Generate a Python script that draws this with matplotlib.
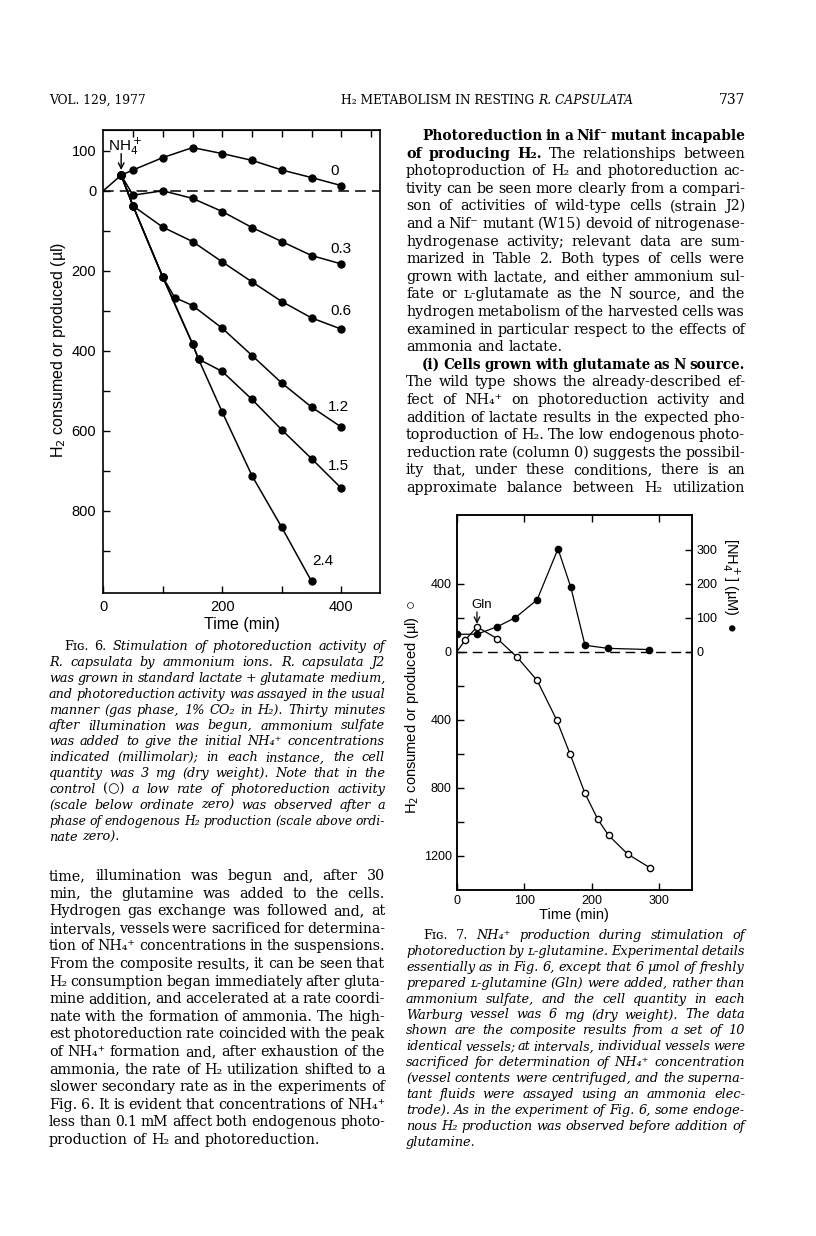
import matplotlib
matplotlib.use("Agg")
import matplotlib.pyplot as plt

# ---- Fig. 6 data (H2 produced > 0, consumed < 0), time in min ----
t_c0 = [0, 30, 50, 100, 150, 200, 250, 300, 350, 400]
h_c0 = [0, 39, 52, 83, 108, 93, 76, 52, 33, 13]
t_c03 = [30, 50, 100, 150, 200, 250, 300, 350, 400]
h_c03 = [39, -11, 0, -19, -52, -92, -127, -162, -183]
t_c06 = [30, 50, 100, 150, 200, 250, 300, 350, 400]
h_c06 = [39, -38, -91, -127, -178, -228, -277, -318, -346]
t_c12 = [30, 50, 100, 120, 150, 200, 250, 300, 350, 400]
h_c12 = [39, -38, -216, -267, -287, -344, -412, -481, -541, -591]
t_c15 = [30, 50, 100, 150, 160, 200, 250, 300, 350, 400]
h_c15 = [39, -38, -216, -383, -421, -452, -522, -598, -670, -744]
t_c24 = [30, 50, 100, 150, 160, 200, 250, 300, 350]
h_c24 = [39, -38, -216, -383, -421, -554, -713, -842, -977]
conc_labels = ["0", "0.3", "0.6", "1.2", "1.5", "2.4"]
label_pos6 = [(388, 50), (399, -146), (399, -300), (395, -541), (395, -688), (369, -927)]

# ---- Fig. 7 data ----
t_h2 = [0, 13, 30, 60, 89, 119, 148, 168, 190, 209, 225, 253, 286]
h2 = [0, 72, 147, 78, -29, -167, -400, -602, -832, -985, -1079, -1188, -1269]
t_nh4 = [1, 30, 60, 87, 119, 150, 169, 190, 224, 285]
nh4 = [52, 52, 74, 101, 153, 303, 190, 19.5, 10.5, 7]

W, H = 816, 1236
fig = plt.figure(figsize=(W / 100, H / 100), dpi=100)
fig.patch.set_facecolor("white")
rend = fig.canvas.get_renderer()

SERIF = ["DejaVu Serif", "DejaVu Sans"]
SANS = ["Liberation Sans", "DejaVu Sans"]
RM, IT, BF = {}, {"style": "italic"}, {"weight": "bold"}


def box(l, t, r, b):
    return [l / W, 1 - b / H, (r - l) / W, (b - t) / H]


def draw_line(segs, x0, x1, y, size, justify=True):
    words = []
    for text, st in segs:
        for w in text.split():
            words.append((w, st))
    objs = [fig.text(0, 0, w, fontsize=size, family=SERIF, va="baseline", **st)
            for w, st in words]
    widths = [t.get_window_extent(renderer=rend).width for t in objs]
    gap = size * 100 / 72 * 0.32
    if justify and len(objs) > 1:
        n = len(objs) - 1
        min_gap = size * 100 / 72 * 0.26
        gap = (x1 - x0 - sum(widths)) / n
        if gap < min_gap:
            # shrink this line a little so the words do not run together
            f = (x1 - x0 - n * min_gap) / sum(widths)
            for t in objs:
                t.set_fontsize(size * f)
            widths = [t.get_window_extent(renderer=rend).width for t in objs]
            gap = (x1 - x0 - sum(widths)) / n
    x = x0
    for t, w in zip(objs, widths):
        t.set_position((x / W, 1 - y / H))
        x += w + gap


def draw_block(lines, x0, x1, y0, dy, size):
    for i, (segs, ind, just) in enumerate(lines):
        draw_line(segs, x0 + ind, x1, y0 + i * dy, size, just)


# ---------------- header ----------------
fig.text(49 / W, 1 - 104 / H, "VOL. 129, 1977", fontsize=8.8, family=SERIF)
h1 = fig.text(341 / W, 1 - 104 / H, "H₂ METABOLISM IN RESTING ", fontsize=8.8, family=SERIF)
w1 = h1.get_window_extent(renderer=rend).width
fig.text((341 + w1) / W, 1 - 104 / H, "R. CAPSULATA", fontsize=8.8, family=SERIF, style="italic")
fig.text(745 / W, 1 - 104 / H, "737", fontsize=10, family=SERIF, ha="right")

# ---------------- Fig. 6 ----------------
ax6 = fig.add_axes(box(103.3, 130, 380, 593))
ax6.set_xlim(0, 465)
ax6.set_ylim(-1006, 152)
lw6 = 1.1
ax6.plot(t_c0, h_c0, "-", color="k", lw=lw6, marker="o", ms=5, markevery=list(range(1, len(t_c0))))
for tt, hh in [(t_c03, h_c03), (t_c06, h_c06), (t_c12, h_c12), (t_c15, h_c15), (t_c24, h_c24)]:
    ax6.plot(tt, hh, "-", color="k", lw=lw6, marker="o", ms=5)
ax6.axhline(0, color="k", lw=1.1, ls=(0, (7, 4)))
for lab, (x, y) in zip(conc_labels, label_pos6):
    ax6.text(x, y, lab, fontsize=11, family=SANS, ha="center", va="center")
ax6.annotate("", xy=(30, 52), xytext=(30, 93),
             arrowprops=dict(arrowstyle="->", lw=1, color="k", shrinkA=0, shrinkB=0))
ax6.text(37, 112, r"NH$_4^+$", fontsize=11, family=SANS, ha="center", va="center")

yt6 = list(range(-900, 101, 100))
ax6.set_yticks(yt6)
ax6.set_yticklabels([str(abs(v)) if v in (100, 0, -200, -400, -600, -800) else "" for v in yt6])
ax6.set_xticks([0, 100, 200, 300, 400])
ax6.set_xticklabels(["0", "", "200", "", "400"])
ax6.tick_params(direction="in", length=5, width=1, labelsize=10.5, pad=5)
for lb in ax6.get_xticklabels() + ax6.get_yticklabels():
    lb.set_family(SANS)
top6 = ax6.secondary_xaxis("top")
top6.set_xticks(list(range(50, 451, 50)))
top6.set_xticklabels([])
top6.tick_params(direction="in", length=5, width=1)
for sp in ax6.spines.values():
    sp.set_linewidth(1.2)
ax6.set_xlabel("Time (min)", fontsize=11.5, family=SANS, labelpad=2)
fig.text(58 / W, 1 - 350 / H, r"H$_2$ consumed or produced (µl)", rotation=90,
         fontsize=11.5, family=SANS, ha="center", va="center")

# ---------------- Fig. 7 ----------------
ax7 = fig.add_axes(box(456.7, 515, 691.7, 890))
ax7.set_xlim(0, 348)
ax7.set_ylim(-1400, 805)
ax7.plot(t_h2, h2, "-", color="k", lw=0.9, marker="o", ms=4.5, mfc="white", mec="k", mew=1,
         markevery=list(range(1, len(t_h2))))
ax7.axhline(0, color="k", lw=1, ls=(0, (7, 4)))
ax7.annotate("", xy=(30, 165), xytext=(30, 235),
             arrowprops=dict(arrowstyle="->", lw=0.9, color="k", shrinkA=0, shrinkB=0))
ax7.text(37, 275, "Gln", fontsize=9.5, family=SANS, ha="center", va="center")
yt7 = list(range(-1200, 401, 200))
ax7.set_yticks(yt7)
ax7.set_yticklabels([str(abs(v)) if v in (400, 0, -400, -800, -1200) else "" for v in yt7])
ax7.set_xticks([0, 100, 200, 300])
ax7.tick_params(direction="in", length=5, width=1, labelsize=9, pad=3.5, top=True)
for lb in ax7.get_xticklabels() + ax7.get_yticklabels():
    lb.set_family(SANS)
ax7.set_xlabel("Time (min)", fontsize=10.5, family=SANS, labelpad=1)

ax7r = ax7.twinx()
ax7r.set_ylim(-700, 402.5)
ax7r.plot(t_nh4, nh4, "-", color="k", lw=0.9, marker="o", ms=4.5)
ax7r.set_yticks([0, 100, 200, 300])
ax7r.tick_params(direction="in", length=5, width=1, labelsize=9, pad=3.5)
for lb in ax7r.get_yticklabels():
    lb.set_family(SANS)
for a in (ax7, ax7r):
    for sp in a.spines.values():
        sp.set_linewidth(1.1)
fig.text(412 / W, 1 - 707 / H, r"H$_2$ consumed or produced (µl)  ○", rotation=90,
         fontsize=10.5, family=SANS, ha="center", va="center")
fig.text(731 / W, 1 - 585 / H, r"[NH$_4^+$] (µM)  ●", rotation=-90,
         fontsize=10.5, family=SANS, ha="center", va="center")

# ---------------- right column text ----------------
right_lines = [
    ([("Photoreduction in a Nif⁻ mutant incapable", BF)], 16, True),
    ([("of producing H₂.", BF), ("The relationships between", RM)], 0, True),
    ([("photoproduction of H₂ and photoreduction ac-", RM)], 0, True),
    ([("tivity can be seen more clearly from a compari-", RM)], 0, True),
    ([("son of activities of wild-type cells (strain J2)", RM)], 0, True),
    ([("and a Nif⁻ mutant (W15) devoid of nitrogenase-", RM)], 0, True),
    ([("hydrogenase activity; relevant data are sum-", RM)], 0, True),
    ([("marized in Table 2. Both types of cells were", RM)], 0, True),
    ([("grown with lactate, and either ammonium sul-", RM)], 0, True),
    ([("fate or ʟ-glutamate as the N source, and the", RM)], 0, True),
    ([("hydrogen metabolism of the harvested cells was", RM)], 0, True),
    ([("examined in particular respect to the effects of", RM)], 0, True),
    ([("ammonia and lactate.", RM)], 0, False),
    ([("(i) Cells grown with glutamate as N source.", BF)], 16, True),
    ([("The wild type shows the already-described ef-", RM)], 0, True),
    ([("fect of NH₄⁺ on photoreduction activity and", RM)], 0, True),
    ([("addition of lactate results in the expected pho-", RM)], 0, True),
    ([("toproduction of H₂. The low endogenous photo-", RM)], 0, True),
    ([("reduction rate (column 0) suggests the possibil-", RM)], 0, True),
    ([("ity that, under these conditions, there is an", RM)], 0, True),
    ([("approximate balance between H₂ utilization", RM)], 0, True),
]
BODY = 10.3
CAP = 9.3
draw_block(right_lines, 406, 745, 140, 17.6, BODY)

# ---------------- Fig. 6 caption ----------------
cap6 = [
    ([("Fɪɢ. 6.", RM), ("Stimulation of photoreduction activity of", IT)], 15, True),
    ([("R. capsulata by ammonium ions. R. capsulata J2", IT)], 0, True),
    ([("was grown in standard lactate + glutamate medium,", IT)], 0, True),
    ([("and photoreduction activity was assayed in the usual", IT)], 0, True),
    ([("manner (gas phase, 1% CO₂ in H₂). Thirty minutes", IT)], 0, True),
    ([("after illumination was begun, ammonium sulfate", IT)], 0, True),
    ([("was added to give the initial NH₄⁺ concentrations", IT)], 0, True),
    ([("indicated (millimolar); in each instance, the cell", IT)], 0, True),
    ([("quantity was 3 mg (dry weight). Note that in the", IT)], 0, True),
    ([("control", IT), ("(○)", RM), ("a low rate of photoreduction activity", IT)], 0, True),
    ([("(scale below ordinate zero) was observed after a", IT)], 0, True),
    ([("phase of endogenous H₂ production (scale above ordi-", IT)], 0, True),
    ([("nate zero).", IT)], 0, False),
]
draw_block(cap6, 49, 385, 650, 15.9, CAP)

# ---------------- left column text ----------------
left_lines = [
    "time, illumination was begun and, after 30",
    "min, the glutamine was added to the cells.",
    "Hydrogen gas exchange was followed and, at",
    "intervals, vessels were sacrificed for determina-",
    "tion of NH₄⁺ concentrations in the suspensions.",
    "From the composite results, it can be seen that",
    "H₂ consumption began immediately after gluta-",
    "mine addition, and accelerated at a rate coordi-",
    "nate with the formation of ammonia. The high-",
    "est photoreduction rate coincided with the peak",
    "of NH₄⁺ formation and, after exhaustion of the",
    "ammonia, the rate of H₂ utilization shifted to a",
    "slower secondary rate as in the experiments of",
    "Fig. 6. It is evident that concentrations of NH₄⁺",
    "less than 0.1 mM affect both endogenous photo-",
    "production of H₂ and photoreduction.",
]
draw_block([([(s, RM)], 0, i < len(left_lines) - 1) for i, s in enumerate(left_lines)],
           49, 385, 880, 17.6, BODY)

# ---------------- Fig. 7 caption ----------------
cap7 = [
    ([("Fɪɢ. 7.", RM), ("NH₄⁺ production during stimulation of", IT)], 17, True),
    ([("photoreduction by ʟ-glutamine. Experimental details", IT)], 0, True),
    ([("essentially as in Fig. 6, except that 6 µmol of freshly", IT)], 0, True),
    ([("prepared ʟ-glutamine (Gln) were added, rather than", IT)], 0, True),
    ([("ammonium sulfate, and the cell quantity in each", IT)], 0, True),
    ([("Warburg vessel was 6 mg (dry weight). The data", IT)], 0, True),
    ([("shown are the composite results from a set of 10", IT)], 0, True),
    ([("identical vessels; at intervals, individual vessels were", IT)], 0, True),
    ([("sacrificed for determination of NH₄⁺ concentration", IT)], 0, True),
    ([("(vessel contents were centrifuged, and the superna-", IT)], 0, True),
    ([("tant fluids were assayed using an ammonia elec-", IT)], 0, True),
    ([("trode). As in the experiment of Fig. 6, some endoge-", IT)], 0, True),
    ([("nous H₂ production was observed before addition of", IT)], 0, True),
    ([("glutamine.", IT)], 0, False),
]
draw_block(cap7, 406, 745, 939, 15.9, CAP)

fig.savefig("out.png", dpi=100, facecolor="white")
